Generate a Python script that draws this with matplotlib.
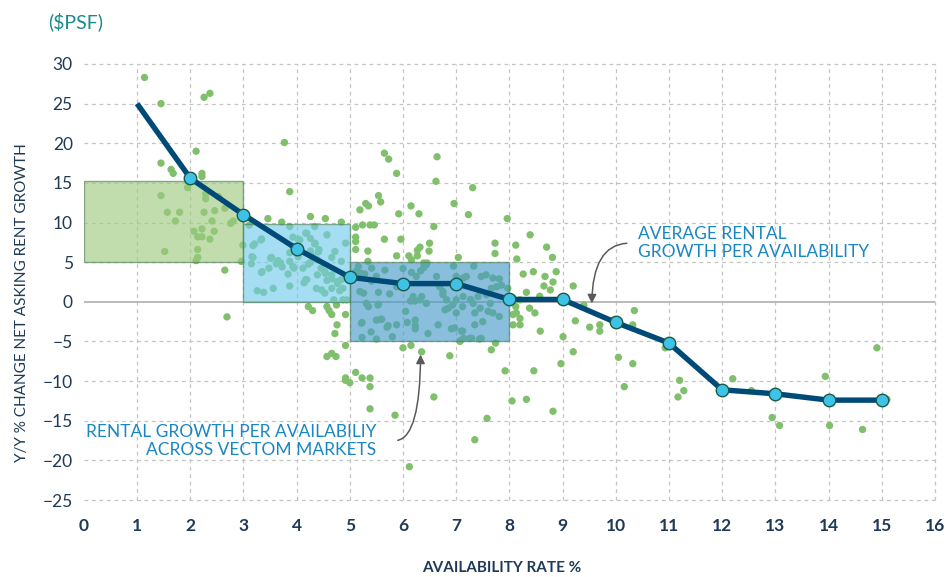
import matplotlib
matplotlib.use("Agg")
import matplotlib.pyplot as plt
from matplotlib.patches import Rectangle

plt.rcParams['font.family'] = ['Lato', 'DejaVu Sans']

# Average rental growth per availability bucket
avg_x = [1, 2, 3, 4, 5, 6, 7, 8, 9, 10, 11, 12, 13, 14, 15]
avg_y = [25.0, 15.6, 11.0, 6.7, 3.1, 2.3, 2.3, 0.3, 0.3, -2.6, -5.2, -11.1, -11.6, -12.4, -12.4]

# Individual markets: availability rate (%) and rent growth
market_pts = [
    # availability 1-3 %
    (1.14, 28.3), (1.45, 25.0), (2.26, 25.8), (2.37, 26.3), (2.11, 19.0), (1.45, 17.5),
    (1.64, 16.7), (1.68, 16.2), (2.22, 16.2), (2.22, 15.8), (1.95, 14.4), (1.45, 13.4),
    (2.29, 13.6), (2.29, 13.0), (2.53, 13.3), (2.65, 11.8), (1.57, 11.3), (1.80, 11.3),
    (2.26, 11.3), (2.46, 11.5), (1.72, 10.2), (2.41, 10.2), (2.76, 9.9), (2.81, 10.2),
    (2.07, 8.9), (2.22, 9.2), (2.45, 8.9), (2.14, 8.2), (2.22, 8.2), (2.37, 7.9),
    (2.14, 6.6), (1.52, 6.35), (2.14, 5.6), (2.11, 5.2), (2.99, 7.15), (2.96, 5.1),
    (2.65, 4.0), (2.69, -1.9),
    # availability 3-5 %
    (3.77, 20.1), (3.87, 13.9), (3.46, 10.5), (3.72, 10.05), (4.26, 10.76), (4.54, 10.5),
    (4.84, 10.05), (3.11, 9.67), (3.87, 9.5), (4.34, 9.5), (4.19, 8.66), (4.57, 8.45),
    (3.34, 7.94), (3.21, 7.3), (3.18, 7.1), (3.93, 8.16), (4.03, 7.9), (4.34, 7.3),
    (4.42, 6.6), (4.26, 6.4), (4.72, 6.35), (3.18, 5.6), (3.53, 5.6), (3.87, 6.2),
    (4.66, 5.6), (3.15, 4.8), (3.62, 4.8), (3.73, 4.4), (3.48, 4.25), (3.95, 4.25),
    (4.12, 4.25), (4.26, 4.96), (4.53, 3.8), (4.84, 5.1), (3.34, 3.7), (3.84, 3.5),
    (4.14, 2.4), (4.19, 2.8), (4.39, 3.4), (4.66, 2.9), (4.77, 2.3), (4.57, 2.7),
    (3.87, 2.0), (4.37, 1.7), (4.47, 1.5), (4.53, 1.1), (3.56, 1.7), (3.26, 1.4),
    (3.38, 1.2), (4.66, 1.7), (4.81, 1.4), (4.94, 0.25), (4.70, 0.25), (4.87, 0.25),
    (4.22, -0.6), (4.30, -1.1), (4.57, -0.6), (4.61, -1.1), (4.66, -1.6), (4.75, -0.4),
    (4.92, -1.6), (4.76, -2.9), (4.72, -4.0), (4.92, -5.5), (4.57, -6.9), (4.66, -6.5),
    (4.74, -6.9), (4.92, -9.6), (5.0, -10.2), (4.92, -9.9), (3.33, 7.8), (3.35, 3.8),
    (3.16, 5.7), (3.51, 5.5), (3.65, 5.2), (3.70, 4.9), (3.87, 5.1), (3.93, 4.45),
    (4.17, 8.66), (4.26, 8.0), (4.35, 7.4), (4.41, 6.3), (4.31, 5.7), (4.39, 5.3),
    (4.22, 4.75), (4.17, 2.8), (4.46, 4.25), (4.54, 3.6), (4.66, 3.4), (4.76, 2.56),
    (4.84, 2.8), (4.87, 1.7), (4.92, 7.4), (3.93, 7.0), (4.03, 5.7), (4.06, 7.8),
    # availability 5-8 %, above 5 % growth
    (5.65, 18.75), (5.73, 18.0), (5.88, 16.2), (6.64, 18.3), (6.62, 15.2), (5.54, 13.4),
    (5.58, 12.6), (5.30, 12.4), (5.35, 12.1), (5.19, 11.6), (5.92, 11.1), (6.15, 12.1),
    (6.30, 11.1), (5.11, 9.4), (5.24, 9.7), (5.38, 9.7), (5.46, 9.7), (6.58, 9.5),
    (5.11, 8.16), (5.11, 7.6), (5.65, 7.9), (5.96, 7.9), (5.11, 6.6), (5.34, 6.4),
    (5.88, 5.8), (6.11, 5.8), (6.16, 5.3), (6.27, 5.8), (6.27, 6.5), (6.32, 6.9),
    (6.50, 7.4), (6.49, 6.4), (5.34, 5.1), (6.39, 4.9), (6.45, 4.9), (7.31, 14.4),
    (6.96, 12.4), (7.23, 11.0), (7.96, 10.5), (7.73, 7.4), (7.73, 6.1), (8.12, 7.15),
    (8.14, 5.4), (7.04, 5.6),
    # availability 5-8 %, within +/-5 % growth
    (5.16, 4.45), (5.21, 3.6), (5.28, 3.5), (5.50, 3.2), (5.66, 4.0), (5.41, 2.6),
    (5.19, 1.3), (5.26, 1.1), (5.54, 1.2), (5.31, -0.2), (5.35, -0.6), (5.54, -0.3),
    (5.23, -2.6), (5.50, -2.3), (5.58, -2.2), (5.70, -3.2), (5.23, -4.5), (5.50, -4.7),
    (5.88, -2.9), (5.88, 1.9), (6.16, 3.7), (6.25, 3.2), (6.39, 4.3), (6.44, 4.7),
    (6.33, 3.9), (6.19, 0.67), (6.35, 0.67), (6.14, 0.1), (6.22, 0.1), (6.32, 0.25),
    (6.44, -0.2), (6.08, -2.6), (6.23, -2.3), (6.23, -3.4), (6.47, -4.0), (6.66, -2.9),
    (6.63, 3.2), (6.69, 1.9), (6.75, 1.3), (6.75, 0.9), (6.82, 0.25), (6.79, -1.0),
    (6.95, 4.5), (7.0, 3.2), (7.13, 3.0), (7.19, 3.2), (7.33, 4.5), (7.47, 3.2),
    (7.56, 3.4), (7.69, 3.0), (7.81, 2.9), (7.85, 2.1), (7.76, 1.9), (7.66, 1.7),
    (7.57, 0.9), (7.41, 0.67), (7.27, 0.3), (7.13, 0.67), (7.0, 0.25), (6.93, -0.4),
    (6.85, -0.8), (7.32, -0.2), (7.45, -0.8), (7.64, -0.2), (7.69, -1.4), (7.81, -1.85),
    (7.60, -1.2), (7.35, -1.4), (7.12, -0.6), (7.0, -1.4), (7.35, -2.9), (7.5, -2.5),
    (7.12, -3.7), (6.97, -3.3), (7.26, -4.6), (7.44, -4.7), (7.08, -4.9), (7.97, 1.7),
    (5.22, -2.7), (5.6, -2.2), (5.72, -3.0), (6.23, -3.0), (6.91, -3.4), (7.1, -3.7),
    (7.14, -4.6), (7.29, -4.6), (7.47, -4.6), (5.53, -0.4), (5.95, 2.5), (6.0, 4.2),
    (5.75, 1.0), (6.05, -1.2), (5.4, -3.8), (5.8, -4.4), (5.11, 3.8), (5.41, 4.25),
    # availability 5-8 %, below -5 % growth
    (5.23, -9.6), (5.38, -9.6), (5.38, -10.7), (5.38, -13.5), (5.85, -14.3), (6.12, -20.8),
    (6.58, -12.0), (7.35, -17.4), (6.0, -5.8), (6.15, -5.5), (6.35, -6.3), (6.88, -6.8),
    (5.11, -8.9), (7.07, -5.0), (7.66, -6.05), (7.74, -5.2),
    # availability above 8 %
    (8.39, 8.45), (8.70, 6.9), (8.81, 5.6), (8.88, 3.8), (8.77, 1.5), (8.82, 2.5),
    (8.65, 2.0), (9.20, 2.0), (8.26, 3.5), (8.32, 1.2), (8.45, 3.8), (8.67, 3.2),
    (8.20, 0.25), (8.57, 0.7), (8.38, -0.8), (8.48, -1.4), (8.20, -2.1), (8.20, -2.9),
    (8.07, -1.6), (8.58, -3.7), (9.01, -4.4), (9.24, -2.4), (9.51, -3.2), (9.70, -2.9),
    (9.70, -3.7), (9.96, -2.3), (10.32, -2.9), (10.35, -1.1), (9.40, -0.4), (9.20, -6.3),
    (8.97, -7.8), (8.46, -8.7), (7.92, -8.7), (10.05, -7.0), (10.32, -7.8), (10.93, -5.8),
    (11.20, -9.9), (11.28, -11.2), (11.17, -12.0), (10.16, -10.7), (12.2, -9.7),
    (12.55, -11.2), (13.94, -9.4), (14.91, -5.8), (15.1, -12.3), (12.94, -14.6),
    (13.08, -15.6), (14.02, -15.6), (14.64, -16.1), (8.05, -12.5), (8.32, -12.3),
    (8.82, -13.8), (7.58, -14.7), (8.07, 0.5), (8.12, -0.6), (8.13, -1.4), (8.07, -2.9),
]
market_x = [p[0] for p in market_pts]
market_y = [p[1] for p in market_pts]

# Availability bands: (x0, x1, y0, y1, colour)
bands = [
    (0, 3, 5.0, 15.3, '#9ecb80'),
    (3, 5, 0.0, 9.8, '#72cbeb'),
    (5, 8, -5.0, 5.0, '#479bc9'),
]

x_ticks = list(range(0, 17))
y_ticks = list(range(-25, 31, 5))

navy = '#1e3a56'
label_blue = '#1a86c2'

fig = plt.figure(figsize=(9.53, 5.77), dpi=100)
ax = fig.add_axes([0.088, 0.1334, 0.893, 0.7557])
ax.set_xlim(0, 16)
ax.set_ylim(-25, 30)
for s in ax.spines.values():
    s.set_visible(False)

# dashed grid
for xv in x_ticks[1:]:
    ax.axvline(xv, color='#c4c4c4', lw=0.9, ls=(0, (3, 3)), zorder=1, clip_on=False)
for yv in y_ticks:
    if yv == 0:
        ax.axhline(0, color='#b4b4b4', lw=1.3, zorder=1)
    else:
        ax.axhline(yv, color='#c4c4c4', lw=0.9, ls=(0, (3, 3)), zorder=1, clip_on=False)

ax.scatter(market_x, market_y, s=28, color='#80bf6c', edgecolors='none', zorder=2)

for x0, x1, y0, y1, c in bands:
    ax.add_patch(Rectangle((x0, y0), x1 - x0, y1 - y0, facecolor=c, alpha=0.64,
                           edgecolor='#4f7f55', lw=1.0, zorder=3))

ax.plot(avg_x, avg_y, color='#004a78', lw=3.9, zorder=4, solid_capstyle='butt')
ax.plot(avg_x[1:], avg_y[1:], ls='none', marker='o', ms=9, mfc='#3ec2e8',
        mec='#1b5a48', mew=1.0, zorder=5)

ax.set_xticks(x_ticks)
ax.set_yticks(y_ticks)
ax.tick_params(axis='both', length=0, labelcolor=navy)
ax.tick_params(axis='x', pad=13, labelsize=12.5)
ax.tick_params(axis='y', pad=8, labelsize=12.5)
for t in ax.get_xticklabels():
    t.set_fontweight('bold')

# callouts
ax.text(10.41, 7.45, 'AVERAGE RENTAL\nGROWTH PER AVAILABILITY', color=label_blue,
        fontsize=12.5, ha='left', va='center', linespacing=1.15, zorder=6)
ax.annotate('', xy=(9.55, -0.55), xytext=(10.26, 7.4),
            arrowprops=dict(arrowstyle='-|>', color='#5a5a5a', lw=1.1,
                            mutation_scale=13,
                            connectionstyle='angle3,angleA=0,angleB=90'),
            zorder=6)

ax.text(5.5, -17.55, 'RENTAL GROWTH PER AVAILABILIY\nACROSS VECTOM MARKETS', color=label_blue,
        fontsize=12.5, ha='right', va='center', linespacing=1.15, zorder=6)
ax.annotate('', xy=(6.33, -6.3), xytext=(5.85, -17.5),
            arrowprops=dict(arrowstyle='-|>', color='#5a5a5a', lw=1.1,
                            mutation_scale=13,
                            connectionstyle='angle3,angleA=0,angleB=90'),
            zorder=6)

fig.text(0.0231, 0.475, 'Y/Y % CHANGE NET ASKING RENT GROWTH', rotation=90,
         ha='center', va='center', color=navy, fontsize=11)
fig.text(0.526, 0.015, 'AVAILABILITY RATE %', ha='center', va='center',
         color=navy, fontsize=11, fontweight='bold')
fig.text(0.05, 0.962, '($PSF)', ha='left', va='center', color='#1b8a8c', fontsize=14)

fig.savefig('out.png', dpi=100)
